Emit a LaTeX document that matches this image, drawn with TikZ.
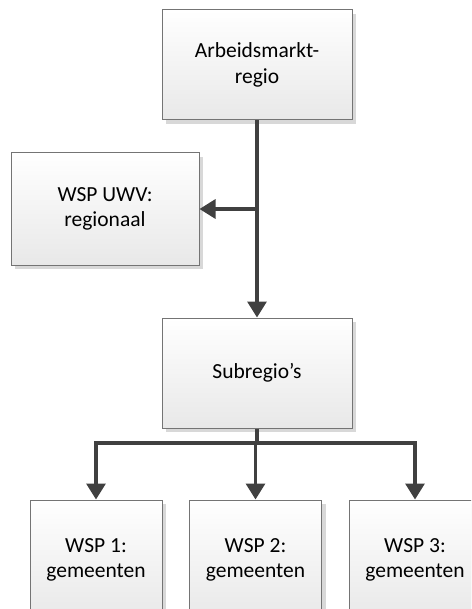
\documentclass[tikz,border=0pt]{standalone}
\usepackage{fontspec}
\setmainfont{Carlito}
\usetikzlibrary{arrows.meta,shadows}
\definecolor{linec}{HTML}{404040}
\definecolor{boxline}{HTML}{747474}
\definecolor{shadowc}{HTML}{D8D8D8}
\tikzset{
  x=1pt,y=1pt,
  box/.style={draw=boxline, line width=1pt, top color=white, bottom color=black!9,
    drop shadow={shadow xshift=4pt, shadow yshift=-4pt, fill=shadowc, opacity=1},
    align=center, inner sep=0pt, font=\fontsize{21.5}{25.5}\selectfont},
  bigbox/.style={box, minimum width=190pt, minimum height=110pt},
  smallbox/.style={box, minimum width=132pt, minimum height=120pt},
  arr/.style={draw=linec, line width=3.2pt, -{Triangle[length=16pt,width=19pt]}},
}
\begin{document}
\begin{tikzpicture}
\clip (0,0) rectangle (471,-609);
\fill[white] (0,0) rectangle (471,-609);
\node[bigbox] (top) at (257,-65) {Arbeidsmarkt-\\regio};
\node[bigbox, minimum width=188pt, minimum height=112pt] (uwv) at (105,-209) {WSP UWV:\\regionaal};
\node[bigbox] (sub) at (257,-373) {Subregio’s};
\node[smallbox] (w1) at (96,-560) {WSP 1:\\gemeenten};
\node[smallbox] (w2) at (255.5,-560) {WSP 2:\\gemeenten};
\node[smallbox] (w3) at (415,-560) {WSP 3:\\gemeenten};
\coordinate (bus) at (sub.south |- 0,-443);
\draw[arr] (top.south) -- (sub.north);
\draw[arr] (top.south |- uwv.east) -- (uwv.east);
\draw[arr] (sub.south) -- (bus) -| (w1.north);
\draw[arr] (bus) -| (w3.north);
\draw[arr] (bus) -- (bus -| w2.north) -- (w2.north);
\end{tikzpicture}
\end{document}
